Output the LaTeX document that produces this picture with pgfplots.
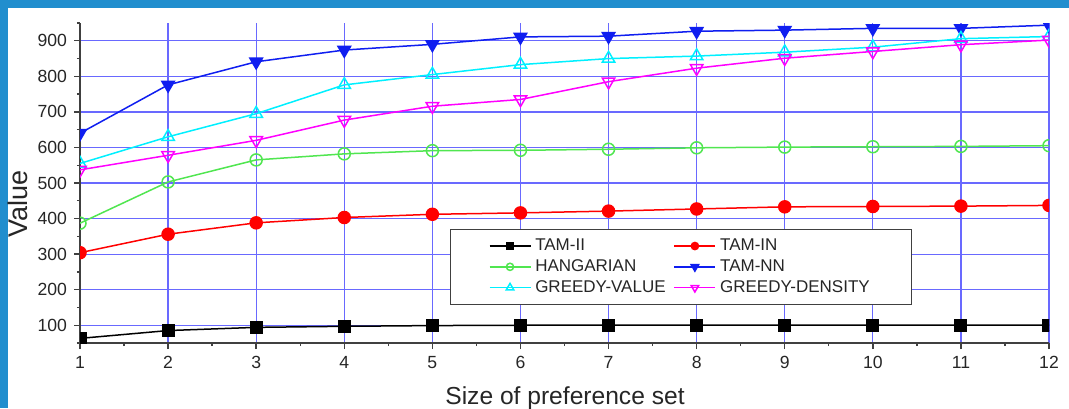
\documentclass[border=0pt]{standalone}
\usepackage{fontspec}
\setmainfont{Liberation Sans}
\usepackage{pgfplots}
\pgfplotsset{compat=1.18}

\definecolor{slideblue}{RGB}{33,142,206}
\definecolor{gridblue}{RGB}{105,105,255}
\definecolor{nnblue}{RGB}{15,30,240}
\definecolor{hgreen}{RGB}{80,230,80}
\definecolor{cyanc}{RGB}{0,240,255}
\definecolor{magc}{RGB}{255,0,255}

\begin{document}
\begin{tikzpicture}[x=0.5pt,y=0.5pt]
\path[use as bounding box] (0,0) rectangle (1069,408);
\fill[slideblue] (0,0) rectangle (1069,408);
\fill[white] (8,0) rectangle (1069,400);
\begin{axis}[
  at={(40pt,32.5pt)}, anchor=south west,
  scale only axis, width=484.5pt, height=160pt,
  xmin=1, xmax=12, ymin=50, ymax=950,
  axis x line*=bottom, axis y line*=left,
  axis line style={black!75, line width=0.8pt},
  xtick={1,...,12}, minor x tick num=1,
  ytick={100,200,...,900}, minor ytick={50,150,...,950},
  tick align=outside,
  major tick length=3pt, minor tick length=1.6pt,
  tick style={black!75, line width=0.7pt},
  grid=major,
  major grid style={gridblue, line width=0.6pt},
  /pgf/number format/assume math mode=true,
  ticklabel style={font=\fontsize{8.8}{10}\selectfont, text=black!85},
  clip marker paths=true,
  legend columns=2,
  legend cell align=left,
  legend style={at={(0.382,0.356)}, anchor=north west,
    draw=black!75, line width=0.6pt,
    font=\fontsize{8.5}{10}\selectfont, text=black!85,
    inner xsep=19pt, inner ysep=2.5pt, row sep=-1pt,
    /tikz/every even column/.append style={column sep=2pt}},
  legend image code/.code={%
    \draw[mark repeat=2,mark phase=2,/tikz/every mark/.append style={scale=0.6}]
      plot coordinates {(0pt,0pt) (10.25pt,0pt) (20.5pt,0pt)};},
]
\addplot[black, line width=0.75pt, mark=square*, mark size=2.9pt, mark options={fill=black}]
 coordinates {(1,63) (2,85) (3,94) (4,97) (5,99) (6,100) (7,100) (8,100) (9,100) (10,100) (11,100) (12,100)};
\addlegendentry{TAM-II}
\addplot[red, line width=0.75pt, mark=*, mark size=3pt, mark options={fill=red}]
 coordinates {(1,304) (2,356) (3,388) (4,403) (5,412) (6,416) (7,421) (8,427) (9,433) (10,434) (11,435) (12,437)};
\addlegendentry{TAM-IN}
\addplot[hgreen, line width=0.75pt, mark=o, mark size=3pt, mark options={fill=white}]
 coordinates {(1,387) (2,503) (3,565) (4,582) (5,591) (6,592) (7,595) (8,599) (9,601) (10,602) (11,603) (12,605)};
\addlegendentry{HANGARIAN}
\addplot[nnblue, line width=0.75pt, mark=triangle*, mark size=3.6pt, mark options={rotate=180, fill=nnblue}]
 coordinates {(1,640) (2,776) (3,841) (4,874) (5,890) (6,911) (7,913) (8,927) (9,930) (10,935) (11,935) (12,944)};
\addlegendentry{TAM-NN}
\addplot[cyanc, line width=0.75pt, mark=triangle, mark size=3.6pt, mark options={fill=white}]
 coordinates {(1,555) (2,630) (3,695) (4,776) (5,805) (6,833) (7,850) (8,857) (9,868) (10,882) (11,906) (12,912)};
\addlegendentry{GREEDY-VALUE}
\addplot[magc, line width=0.75pt, mark=triangle, mark size=3.6pt, mark options={rotate=180, fill=white}]
 coordinates {(1,537) (2,578) (3,620) (4,677) (5,716) (6,735) (7,785) (8,823) (9,851) (10,870) (11,889) (12,902)};
\addlegendentry{GREEDY-DENSITY}
\end{axis}
\node[rotate=90, anchor=base, font=\fontsize{13.5}{15}\selectfont, text=black!85] at (27,204) {Value};
\node[anchor=base, font=\fontsize{12.3}{14}\selectfont, text=black!85] at (565,4) {Size of preference set};
\end{tikzpicture}
\end{document}
